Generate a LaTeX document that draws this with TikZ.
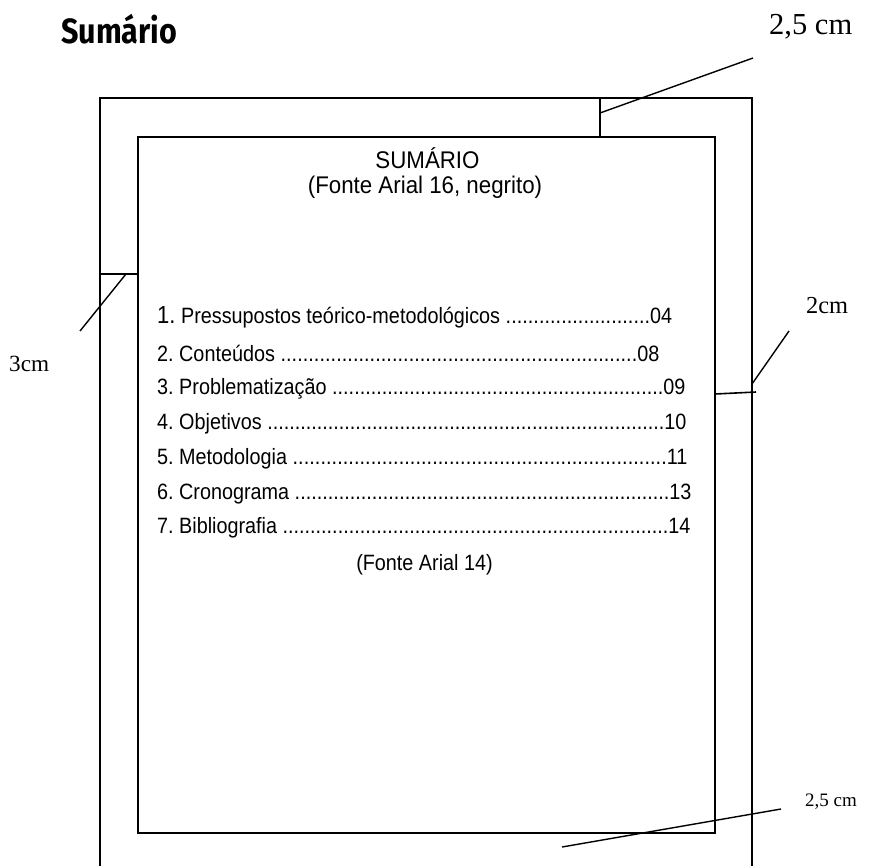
\documentclass[tikz,border=0pt]{standalone}
\usepackage{fontspec}
\usepackage{graphicx}
\setmainfont{Liberation Sans}
\newfontfamily\timesf{Liberation Serif}
\newfontfamily\titlef{Fira Sans}
\frenchspacing
\newcommand{\tallsc}[1]{\scalebox{1}[1.12]{#1}}
\tikzset{
  frame/.style={line width=1.7pt},
  tick/.style={line width=1.6pt},
  leader/.style={line width=1.4pt},
  lbl/.style={inner sep=0pt, anchor=base west},
  ctr/.style={inner sep=0pt, anchor=base},
  item/.style={inner sep=0pt, anchor=base west, font=\fontsize{19.8}{22}\selectfont},
}
\begin{document}
\begin{tikzpicture}[x=1pt,y=-1pt]
\useasboundingbox (0,0) rectangle (872,865);
% page frames
\coordinate (oBL) at (100,880);
\coordinate (oTL) at (100,98);
\coordinate (oTR) at (752,98);
\coordinate (oBR) at (752,880);
\draw[frame] (oBL) -- (oTL) -- (oTR) -- (oBR);
\coordinate (iTL) at (138,137);
\coordinate (iBR) at (715,833);
\draw[frame] (iTL) rectangle (iBR);
% title
\node[lbl] (title) at (61,43.5) {\scalebox{1}[1.15]{\resizebox{116pt}{!}{\titlef\bfseries Sumário}}};
% top margin 2,5 cm
\coordinate (t1) at (600,98);
\coordinate (t2) at (600,137);
\coordinate (tL) at (600,113);
\coordinate (tE) at (753,58);
\draw[tick] (t1) -- (t2);
\draw[leader] (tL) -- (tE);
\node[lbl, font=\timesf\fontsize{30.5}{32}\selectfont] (topcm) at (769,34) {2,5 cm};
% left margin 3cm
\coordinate (l1) at (100,274);
\coordinate (l2) at (138,274);
\coordinate (lL) at (126,274);
\coordinate (lE) at (80,331);
\draw[tick] (l1) -- (l2);
\draw[leader] (lL) -- (lE);
\node[lbl, font=\timesf\fontsize{23.2}{25}\selectfont] (leftcm) at (9,371) {3cm};
% right margin 2cm
\coordinate (r1) at (715,394);
\coordinate (r2) at (756,392);
\coordinate (rL) at (752,384);
\coordinate (rE) at (789,331);
\draw[tick] (r1) -- (r2);
\draw[leader] (rL) -- (rE);
\node[lbl, font=\timesf\fontsize{24.4}{26}\selectfont] (rightcm) at (806,313) {2cm};
% bottom margin 2,5 cm
\coordinate (bL) at (562,847);
\coordinate (bE) at (781,809);
\draw[leader] (bL) -- (bE);
\node[lbl, font=\timesf\fontsize{19}{21}\selectfont] (botcm) at (805,806) {2,5 cm};
% heading inside
\node[ctr] (sum) at (427.5,168) {\scalebox{1}[1.08]{\fontsize{22.3}{24}\selectfont SUMÁRIO}};
\node[ctr] (sumnote) at (425,193) {\scalebox{1}[1.08]{\fontsize{22.3}{24}\selectfont (Fonte Arial 16, negrito)}};
% items
\node[item] (i1) at (157,323) {\tallsc{\hbox to 515pt{{\fontsize{22}{24}\selectfont 1.} Pressupostos teórico-metodológicos \xleaders\hbox{.}\hfill 04}}};
\node[item] (i2) at (157,361) {\tallsc{\hbox to 502pt{2. Conteúdos \xleaders\hbox{.}\hfill 08}}};
\node[item] (i3) at (157,394) {\tallsc{\hbox to 528pt{3. Problematização \xleaders\hbox{.}\hfill 09}}};
\node[item] (i4) at (157,429) {\tallsc{\hbox to 529pt{4. Objetivos \xleaders\hbox{.}\hfill 10}}};
\node[item] (i5) at (157,464) {\tallsc{\hbox to 530pt{5. Metodologia \xleaders\hbox{.}\hfill 11}}};
\node[item] (i6) at (157,499) {\tallsc{\hbox to 534pt{6. Cronograma \xleaders\hbox{.}\hfill 13}}};
\node[item] (i7) at (157,533) {\tallsc{\hbox to 533pt{7. Bibliografia \xleaders\hbox{.}\hfill 14}}};
\node[ctr, font=\fontsize{19.8}{22}\selectfont] (note) at (424.5,570) {\tallsc{(Fonte Arial 14)}};
\end{tikzpicture}
\end{document}
